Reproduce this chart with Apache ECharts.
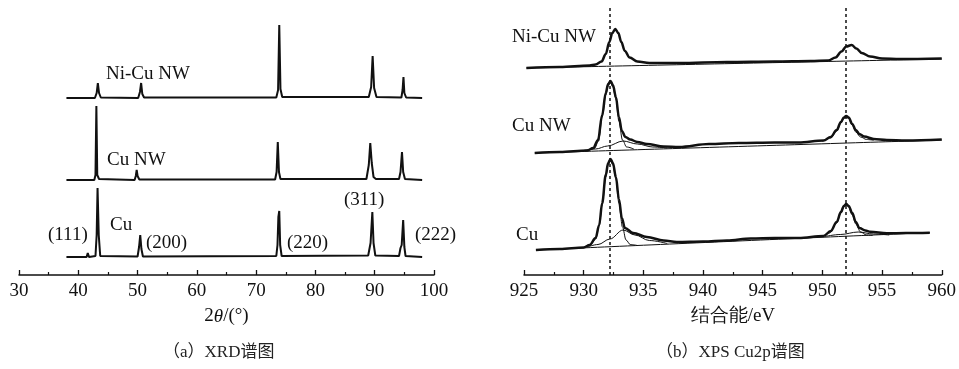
<!DOCTYPE html>
<html>
<head>
<meta charset="utf-8">
<script src="https://cdn.jsdelivr.net/npm/echarts@6/dist/echarts.min.js"></script>
<style>
  html, body { margin: 0; padding: 0; background: #fff; }
  #chart { width: 959px; height: 369px; }
</style>
</head>
<body>
<div id="chart"></div>
<script>
// ---- XRD (a): 2theta [deg], intensity (stacked, a.u.) ----
var xrdNiCu = [[38,177],[42.8,177],[43.1,182],[43.3,192],[43.5,182],[43.8,177.5],[50.1,177],[50.4,183],[50.6,192],[50.8,181],[51.1,177.5],
  [60,177.5],[73.4,177.5],[73.7,185],[73.9,250],[74.1,186],[74.4,178],[89.0,178],[89.4,188],[89.65,219],[89.9,187],[90.3,178],
  [94.5,177.5],[94.7,185],[94.85,198],[95.0,182],[95.3,177.5],[98,177]];
var xrdCuNW = [[38,95],[42.7,95],[42.9,100],[43.05,169],[43.2,100],[43.5,96],[49.5,95],[49.7,99],[49.85,105],[50.0,99],[50.3,95.5],
  [73.2,95.5],[73.45,103],[73.65,133],[73.85,103],[74.1,96],[88.6,96],[89.0,110],[89.25,132],[89.5,112],[89.8,98],[90.2,96],
  [94.1,96],[94.35,103],[94.6,123],[94.8,103],[95.1,96],[98,95]];
var xrdCu = [[38,18],[41.4,18],[41.6,22],[41.8,18],[42.9,19],[43.1,40],[43.25,87],[43.45,40],[43.7,19],[50.0,18.5],[50.25,28],
  [50.45,40],[50.65,26],[50.9,18.5],[73.4,19],[73.6,30],[73.75,58],[73.9,64],[74.05,30],[74.3,19],[88.9,19.5],[89.3,32],
  [89.6,63],[89.8,32],[90.1,19.5],[94.1,19],[94.35,27],[94.55,30],[94.8,55],[95.0,28],[95.2,19],[98,18]];

// ---- XPS Cu2p (b): binding energy [eV], intensity (stacked, a.u.) ----
var xpsNiCuRaw = [[925.2,207],[928,208],[930.5,209.5],[931.0,210.5],[931.5,213.5],[931.85,221],[932.15,233],[932.4,242],[932.65,246],
  [932.9,242],[933.15,233],[933.45,224],[933.85,217.5],[934.5,213.5],[935.5,212],[938,212],[942,213],[946,213.5],[949,214],
  [950.5,214.5],[951.1,217.5],[951.6,223.5],[952.0,228.5],[952.45,230],[952.85,226.5],[953.3,222],[954,218.5],[955,216.5],[956.5,216],[960,216.5]];
var xpsNiCuBg = [[925.2,207],[960,216]];

var xpsCuNWRaw = [[925.9,122],[928,123],[930.3,124.5],[930.8,127],[931.2,135],[931.55,160],[931.85,182],[932.05,191],[932.25,194],
  [932.45,190],[932.7,178],[932.95,158],[933.2,144],[933.5,138],[933.9,135.5],[934.5,133],[935.3,131],[936.7,128.5],[938,128],
  [940.5,131],[943,132],[946,132.5],[948,132.5],[950.1,134.5],[950.7,138],[951.2,145],[951.55,153],[951.8,157.5],[952.0,159],
  [952.2,157.5],[952.5,151],[952.8,145],[953.1,141],[953.5,138.5],[954.3,136],[955.4,135],[957,134.5],[960,135.5]];
var xpsCuNWBg = [[925.9,122],[960,135]];
var xpsCuNWFit1 = [[930.3,124.5],[930.9,126.5],[931.25,134],[931.55,158],[931.85,180],[932.05,189],[932.25,192],[932.45,188],
  [932.7,176],[932.95,154],[933.25,135],[933.6,128],[934.2,126]];
var xpsCuNWSat1 = [[930.0,124.5],[931.0,126],[932.0,129],[933.3,134],[934.5,131],[935.8,128],[937.0,127]];
var xpsCuNWFit2 = [[950.0,133.7],[950.7,137],[951.2,144],[951.55,152],[951.8,156.5],[952.0,158],[952.2,156.5],[952.5,150],
  [952.8,143],[953.2,138],[953.7,135.5],[954.3,134.8]];

var xpsCuRaw = [[926,25],[928,26],[930,27.5],[930.5,30],[931.0,37],[931.3,50],[931.55,72],[931.85,100],[932.05,112],[932.25,116],
  [932.45,112],[932.7,98],[932.95,76],[933.2,57],[933.45,47],[934.15,42],[935.3,38],[936.7,34.5],[937.8,33],[940,33.5],[942,34.5],
  [944,36.5],[946,37],[948,37],[950.1,39],[950.7,44],[951.2,53],[951.55,63],[951.8,69],[952.0,71],[952.2,69],[952.5,62],[952.8,53],
  [953.1,47],[953.6,44.5],[954,43.3],[955.4,41.7],[957,42],[959,42.3]];
var xpsCuBg = [[926,25],[959,42.5]];
var xpsCuFit1 = [[930,27.5],[930.6,30.5],[931.0,36],[931.3,49],[931.55,70],[931.85,98],[932.05,110],[932.25,114],[932.45,110],
  [932.7,96],[932.95,72],[933.25,48],[933.55,35],[933.9,30.5],[934.5,29.5]];
var xpsCuSat1 = [[930.3,28],[931.2,30.5],[932.2,36],[933.3,45],[934.3,40],[935.5,34.5],[937.0,31.5]];
var xpsCuFit2 = [[950,38],[950.6,42],[951.2,52],[951.55,62],[951.8,68],[952.0,70],[952.2,68],[952.5,60],[952.8,51],[953.2,43],
  [953.7,40],[954.2,39.5]];
var xpsCuSat2 = [[950.2,38.5],[951.5,40.5],[953.0,43],[954.3,41],[955.6,40]];

var refLines = [932.2, 951.95];

var serif = "'Liberation Serif', 'Times New Roman', serif";
var ink = '#111';

function axisX(gi, min, max, interval, name) {
  return {
    gridIndex: gi, type: 'value', min: min, max: max, interval: interval,
    name: name, nameLocation: 'middle', nameGap: 32,
    nameTextStyle: { fontFamily: serif, fontSize: 19, color: ink, rich: { i: { fontFamily: serif, fontSize: 19, fontStyle: 'italic', color: ink } } },
    axisLine: { lineStyle: { color: ink, width: 1.5 } },
    axisTick: { inside: true, length: 5, lineStyle: { color: ink, width: 1.3 } },
    minorTick: { show: true, splitNumber: 2, length: 3, lineStyle: { color: ink, width: 1.2 } },
    axisLabel: { fontFamily: serif, fontSize: 19, color: ink, margin: 7 },
    splitLine: { show: false }
  };
}
function axisY(gi) {
  return { gridIndex: gi, type: 'value', min: 0, max: 268, show: false };
}
function raw(data, xi, extra) {
  var s = { type: 'line', xAxisIndex: xi, yAxisIndex: xi, data: data, symbol: 'none',
    lineStyle: { color: ink, width: 2 }, silent: true, animation: false };
  if (xi === 1) { s.smooth = 0.35; s.smoothMonotone = 'x'; s.lineStyle.width = 2.5; }
  return Object.assign(s, extra || {});
}
function thin(data) {
  return { type: 'line', xAxisIndex: 1, yAxisIndex: 1, data: data, symbol: 'none', smooth: 0.35, smoothMonotone: 'x',
    lineStyle: { color: ink, width: 1 }, silent: true, animation: false };
}
function label(text, left, cy) {
  return { type: 'text', left: left, top: cy - 11, style: { text: text, font: '19px ' + serif, fill: ink } };
}

var chart = echarts.init(document.getElementById('chart'));
chart.setOption({
  backgroundColor: '#fff',
  animation: false,
  grid: [
    { left: 19, top: 7, width: 415, height: 268 },
    { left: 524, top: 7, width: 418, height: 268 }
  ],
  xAxis: [
    axisX(0, 30, 100, 10, '2{i|θ}/(°)'),
    axisX(1, 925, 960, 5, '结合能/eV')
  ],
  yAxis: [axisY(0), axisY(1)],
  series: [
    raw(xrdNiCu, 0), raw(xrdCuNW, 0), raw(xrdCu, 0),
    raw(xpsNiCuRaw, 1, {
      markLine: { silent: true, symbol: 'none', label: { show: false },
        lineStyle: { color: ink, type: [3, 3], width: 1.5 },
        data: refLines.map(function (v) { return { xAxis: v }; }) }
    }),
    thin(xpsNiCuBg),
    raw(xpsCuNWRaw, 1), thin(xpsCuNWBg), thin(xpsCuNWFit1), thin(xpsCuNWSat1), thin(xpsCuNWFit2),
    raw(xpsCuRaw, 1), thin(xpsCuBg), thin(xpsCuFit1), thin(xpsCuSat1), thin(xpsCuFit2), thin(xpsCuSat2)
  ],
  graphic: [
    label('Ni-Cu NW', 106, 76),
    label('Cu NW', 107, 162),
    label('Cu', 110, 227),
    label('(111)', 48, 237),
    label('(200)', 146, 245),
    label('(220)', 287, 245),
    label('(311)', 344, 202),
    label('(222)', 415, 237),
    label('Ni-Cu NW', 512, 39),
    label('Cu NW', 512, 128),
    label('Cu', 516, 237),
    { type: 'text', left: 163, top: 344, style: { text: '（a）XRD谱图', font: '17px ' + serif + ", 'Noto Sans CJK SC'", fill: '#222' } },
    { type: 'text', left: 656, top: 344, style: { text: '（b）XPS Cu2p谱图', font: '17px ' + serif + ", 'Noto Sans CJK SC'", fill: '#222' } }
  ]
});
</script>
</body>
</html>
